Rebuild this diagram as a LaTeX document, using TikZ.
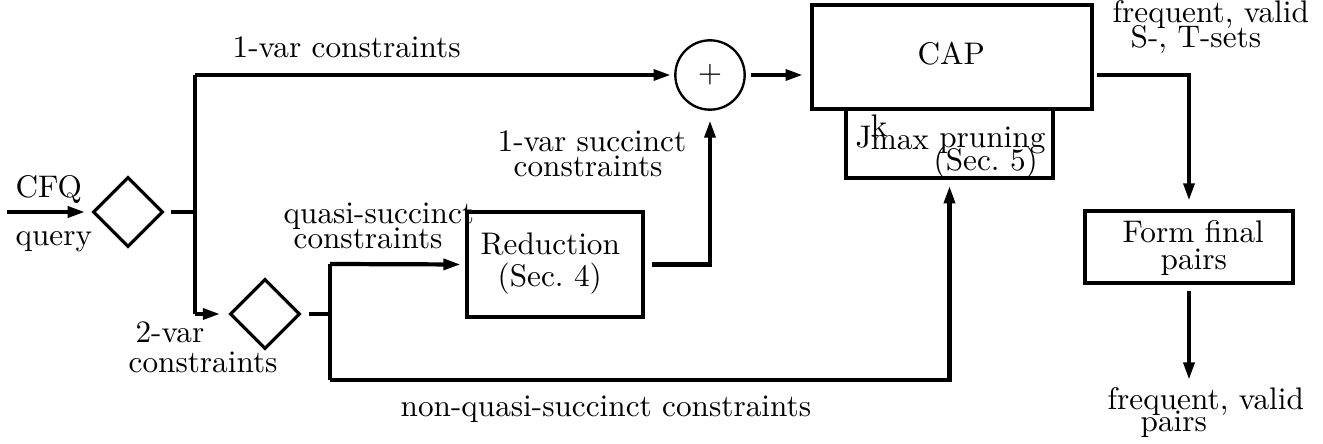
\documentclass[tikz,border=0pt]{standalone}
\usetikzlibrary{shapes.geometric,arrows.meta,calc}
\begin{document}
\begin{tikzpicture}[x=0.32pt,y=-0.32pt,
  ln/.style={line width=1.35pt},
  arr/.style={line width=1.35pt,-{Triangle[length=5.6pt,width=3.4pt]}},
  dia/.style={diamond,draw,line width=1pt,minimum width=22.4pt,minimum height=22.4pt,inner sep=0pt},
  blk/.style={rectangle,draw,line width=1.35pt,inner sep=0pt},
  txt/.style={anchor=base west,inner sep=0pt}]
\useasboundingbox (0,0) rectangle (1323,444);
% shapes
\node[dia] (d1) at (128,212) {};
\node[dia] (d2) at (265,314) {};
\node[circle,draw,line width=0.75pt,minimum size=22.2pt,inner sep=0pt] (plus) at (710,75) {$+$};
\node[blk,minimum width=89.6pt,minimum height=33.3pt] (cap) at (952,57) {};
\node[rectangle,inner sep=0pt,minimum width=65.6pt,minimum height=21.8pt] (jb) at (949.5,143) {};
\node[blk,minimum width=56.3pt,minimum height=33.6pt] (red) at (555,264.5) {};
\node[blk,minimum width=66.6pt,minimum height=23pt] (ffp) at (1189,247) {};
% junctions
\coordinate (in) at (7,212);
\coordinate (j1) at (195,212);
\coordinate (j1t) at (195,75);
\coordinate (j1b) at (195,314);
\coordinate (j2) at (330,314);
\coordinate (j2t) at (330,264);
\coordinate (j2b) at (330,380);
\coordinate (fout) at (1189,380);
% texts
\node[txt] (t1var) at (232,58) {1-var constraints};
\node[txt] (tcfq) at (15,198) {CFQ};
\node[txt] (tquery) at (15,246) {query};
\node[txt] (t2a) at (135,343) {2-var};
\node[txt] (t2b) at (128,373) {constraints};
\node[txt] (tqs1) at (283,224) {quasi-succinct};
\node[txt] (tqs2) at (293,249) {constraints};
\node[txt] (tsc1) at (497,152) {1-var succinct};
\node[txt] (tsc2) at (513,177) {constraints};
\node[txt] (tnq) at (400,417) {non-quasi-succinct constraints};
\node[txt] (tred1) at (480,255) {Reduction};
\node[txt] (tred2) at (497,287) {(Sec.\ 4)};
\node[txt] (tcap) at (917,65) {CAP};
\node[txt] (tj) at (855,148) {J\kern-0.3pt\rlap{\raisebox{3.6pt}{k}}\raisebox{-0.6pt}{max} pruning};
\node[txt] (tsec5) at (933,171) {(Sec.\ 5)};
\node[txt] (tfv1) at (1112,23) {frequent, valid};
\node[txt] (tfv2) at (1130,48) {S-, T-sets};
\node[txt] (tff1) at (1122,243) {Form final};
\node[txt] (tff2) at (1160,270) {pairs};
\node[txt] (tout1) at (1107,410) {frequent, valid};
\node[txt] (tout2) at (1140,432) {pairs};
% connectors
\draw[arr,shorten >=2pt] (in) -- (d1.west);
\draw[ln,shorten <=2.2pt] (d1.east) -- (j1);
\draw[ln] (j1t) -- (j1b);
\draw[arr,shorten >=1pt] (j1t) -- (plus.west);
\draw[arr,shorten >=2.6pt] (j1b) -- (d2.west);
\draw[ln,shorten <=2.5pt] (d2.east) -- (j2);
\draw[ln] (j2t) -- (j2b);
\draw[arr,shorten >=1.3pt] (j2t) -- (red.west);
\draw[arr,shorten <=2.2pt,shorten >=3pt] (red.east) -| (plus.south);
\draw[arr,shorten <=1.5pt,shorten >=2.2pt] (plus.east) -- (plus.east -| cap.west);
\draw[arr,shorten <=1pt,shorten >=2.6pt] (cap.east |- plus) -| (ffp.north);
\draw[arr,shorten <=2pt] (ffp.south) -- (fout);
\draw[arr,shorten >=2.6pt] (j2b) -| (jb.south);
\draw[ln] (jb.north west) -- (jb.south west) -- (jb.south east) -- (jb.north east);
\end{tikzpicture}
\end{document}
